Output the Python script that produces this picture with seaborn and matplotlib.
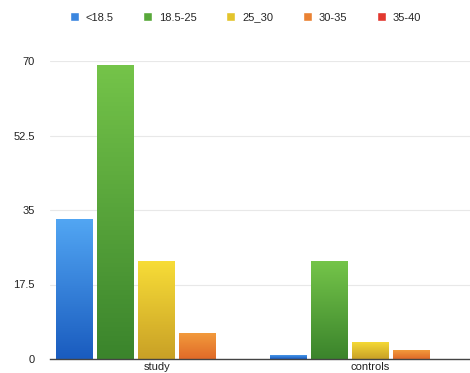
import numpy as np
import pandas as pd
import matplotlib
matplotlib.use('Agg')
import matplotlib.pyplot as plt
import matplotlib.colors as mcolors
from matplotlib.patches import Patch
import seaborn as sns

# data
groups = ['study', 'controls']
bmi_classes = ['<18.5', '18.5-25', '25_30', '30-35', '35-40']
study_vals = [33, 69, 23, 6, 0]
control_vals = [1, 23, 4, 2, 0]
y_ticks = [0, 17.5, 35, 52.5, 70]

# base colour plus (light top, dark bottom) for the gradient fill
base_colors = ['#3b86df', '#58a83a', '#e3c42c', '#ea8233', '#e2382f']
grad_colors = {
    '#3b86df': ('#52a6f3', '#1a5cbf'),
    '#58a83a': ('#74c449', '#3b842c'),
    '#e3c42c': ('#f7dc37', '#c9a126'),
    '#ea8233': ('#f29a3c', '#e06a28'),
    '#e2382f': ('#ef5046', '#cc2a24'),
}

df = pd.DataFrame({
    'group': np.repeat(groups, len(bmi_classes)),
    'bmi': bmi_classes * len(groups),
    'value': study_vals + control_vals,
})

sns.set_style('white')
plt.rcParams['font.family'] = ['Liberation Sans', 'DejaVu Sans']

fig = plt.figure(figsize=(4.7, 3.73), dpi=100)
ax = fig.add_axes([50 / 470, 14 / 373, 427 / 470, 298 / 373])

sns.barplot(data=df, x='group', y='value', hue='bmi', hue_order=bmi_classes,
            palette=base_colors, width=0.96, gap=0.1, saturation=1,
            edgecolor='none', legend=False, ax=ax)

# redraw each bar with a vertical gradient, clipped to the bar
for p in list(ax.patches):
    h = p.get_height()
    if h <= 0:
        continue
    fc = mcolors.to_hex(p.get_facecolor())
    top, bot = grad_colors.get(fc, (fc, fc))
    t = np.linspace(0, 1, 64)[:, None]
    c_top = np.array(mcolors.to_rgb(top))
    c_bot = np.array(mcolors.to_rgb(bot))
    img = (1 - t)[:, :, None] * c_top + t[:, :, None] * c_bot
    x0 = p.get_x()
    im = ax.imshow(img, extent=[x0, x0 + p.get_width(), 0, h],
                   aspect='auto', origin='upper', zorder=p.get_zorder() + 0.1)
    im.set_clip_path(p)

ax.set_xlim(-0.5, 1.5)
ax.set_ylim(0, 70)
ax.set_yticks(y_ticks)
ax.set_yticklabels(['0', '17.5', '35', '52.5', '70'])
ax.yaxis.grid(True, color='#e8e8e8', linewidth=0.8)
ax.set_axisbelow(True)
ax.tick_params(axis='both', length=0, labelsize=8, colors='#222222')
ax.tick_params(axis='y', pad=11)
ax.tick_params(axis='x', pad=2)
ax.set_xlabel('')
ax.set_ylabel('')
for s in ['top', 'right', 'left']:
    ax.spines[s].set_visible(False)
ax.spines['bottom'].set_color('#444444')
ax.spines['bottom'].set_linewidth(1.0)

handles = [Patch(facecolor=base_colors[i], label=bmi_classes[i])
           for i in range(len(bmi_classes))]
fig.legend(handles=handles, loc='center', bbox_to_anchor=(0.522, 0.953),
           ncol=5, frameon=False, fontsize=8, handlelength=0.8,
           handleheight=0.8, handletextpad=0.6, columnspacing=2.7)

fig.savefig('out.png', dpi=100)
